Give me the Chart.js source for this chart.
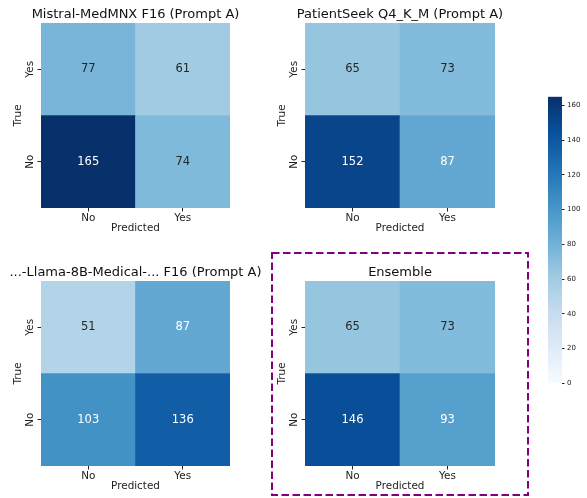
<!DOCTYPE html>
<html>
<head>
<meta charset="utf-8">
<script src="https://cdn.jsdelivr.net/npm/chart.js@4.4.0/dist/chart.umd.min.js"></script>
<style>
  body { margin: 0; background: #fff; }
  #wrap { position: relative; width: 587px; height: 498px; overflow: hidden; }
  canvas { position: absolute; }
</style>
</head>
<body>
<div id="wrap">
  <canvas id="cm1" width="262" height="240" style="left:0;top:0"></canvas>
  <canvas id="cm2" width="262" height="240" style="left:264px;top:0"></canvas>
  <canvas id="cm3" width="270" height="240" style="left:0;top:258px"></canvas>
  <canvas id="cm4" width="272" height="250" style="left:264px;top:248px"></canvas>
  <canvas id="cbar" width="47" height="300" style="left:540px;top:90px"></canvas>
</div>
<script>
// axis categories
const predictedLabels = ['No', 'Yes'];
const trueLabels = ['No', 'Yes'];

const panelTitles = [
  'Mistral-MedMNX F16 (Prompt A)',
  'PatientSeek Q4_K_M (Prompt A)',
  '...-Llama-8B-Medical-... F16 (Prompt A)',
  'Ensemble',
];

// confusion matrices: one array per true class, columns follow predictedLabels
const mistralTrueNo = [165, 74];
const mistralTrueYes = [77, 61];
const patientSeekTrueNo = [152, 87];
const patientSeekTrueYes = [65, 73];
const llamaTrueNo = [103, 136];
const llamaTrueYes = [51, 87];
const ensembleTrueNo = [146, 93];
const ensembleTrueYes = [65, 73];

const colorbarStep = 20;

const vmax = Math.max(
  ...mistralTrueNo, ...mistralTrueYes,
  ...patientSeekTrueNo, ...patientSeekTrueYes,
  ...llamaTrueNo, ...llamaTrueYes,
  ...ensembleTrueNo, ...ensembleTrueYes,
);

Chart.defaults.font.family = "'DejaVu Sans', sans-serif";
Chart.defaults.color = '#222';

// matplotlib "Blues"
const BLUES = ['#f7fbff', '#deebf7', '#c6dbef', '#9ecae1', '#6baed6',
  '#4292c6', '#2171b5', '#08519c', '#08306b'];

function hexToRgb(h) {
  return [1, 3, 5].map((i) => parseInt(h.slice(i, i + 2), 16));
}

function bluesRgb(t) {
  t = Math.min(1, Math.max(0, t));
  const pos = t * (BLUES.length - 1);
  const i = Math.min(Math.floor(pos), BLUES.length - 2);
  const f = pos - i;
  const a = hexToRgb(BLUES[i]);
  const b = hexToRgb(BLUES[i + 1]);
  return a.map((v, k) => Math.round(v + (b[k] - v) * f));
}

function cellColor(value) {
  const [r, g, b] = bluesRgb(value / vmax);
  return `rgb(${r},${g},${b})`;
}

// dark text on light cells, white on dark ones
function textColor(value) {
  const lin = bluesRgb(value / vmax).map((c) => {
    c /= 255;
    return c <= 0.03928 ? c / 12.92 : Math.pow((c + 0.055) / 1.055, 2.4);
  });
  const lum = 0.2126 * lin[0] + 0.7152 * lin[1] + 0.0722 * lin[2];
  return lum > 0.408 ? '#262626' : '#ffffff';
}

const cellText = {
  id: 'cellText',
  afterDatasetsDraw(chart) {
    const { ctx } = chart;
    ctx.save();
    ctx.font = "11.5px 'DejaVu Sans'";
    ctx.textAlign = 'center';
    ctx.textBaseline = 'middle';
    chart.data.datasets.forEach((ds, di) => {
      chart.getDatasetMeta(di).data.forEach((bar, i) => {
        const count = ds.data[i].count;
        const { x, y, base } = bar.getProps(['x', 'y', 'base'], true);
        ctx.fillStyle = textColor(count);
        ctx.fillText(String(count), x, (y + base) / 2);
      });
    });
    ctx.restore();
  },
};

// title centred over the heatmap, allowed to run wider than it
const axesTitle = {
  id: 'axesTitle',
  afterDraw(chart, args, opts) {
    const { ctx, chartArea } = chart;
    ctx.save();
    ctx.font = "13px 'DejaVu Sans'";
    ctx.fillStyle = '#111';
    ctx.textAlign = 'center';
    ctx.textBaseline = 'alphabetic';
    ctx.fillText(opts.text, (chartArea.left + chartArea.right) / 2, chartArea.top - 5.5);
    ctx.restore();
  },
};

const highlightBox = {
  id: 'highlightBox',
  afterDraw(chart, args, opts) {
    if (!opts.rect) return;
    const { ctx } = chart;
    const [x, y, w, h] = opts.rect;
    ctx.save();
    ctx.strokeStyle = '#800080';
    ctx.lineWidth = 2;
    ctx.setLineDash([7.5, 3.5]);
    ctx.strokeRect(x, y, w, h);
    ctx.restore();
  },
};

function rowCells(row) {
  return row.map((v, i) => ({ x: predictedLabels[i], y: 1, count: v }));
}

function makeMatrix(id, title, trueNo, trueYes, lay) {
  const tickFont = { size: 10.4 };
  return new Chart(document.getElementById(id), {
    type: 'bar',
    data: {
      labels: predictedLabels,
      datasets: [trueNo, trueYes].map((row, r) => ({
        label: trueLabels[r],
        data: rowCells(row),
        backgroundColor: (c) => cellColor(c.raw.count),
        borderWidth: 0,
        categoryPercentage: 1,
        barPercentage: 1,
      })),
    },
    options: {
      responsive: false,
      animation: false,
      layout: { padding: { left: 0, right: lay.padRight, top: lay.padTop, bottom: 0 } },
      plugins: {
        legend: { display: false },
        tooltip: { enabled: false },
        title: { display: false },
        axesTitle: { text: title },
        highlightBox: { rect: lay.box || null },
      },
      scales: {
        x: {
          type: 'category',
          stacked: true,
          offset: true,
          grid: { offset: false, drawOnChartArea: false, tickLength: 3.5, color: '#222' },
          border: { display: false },
          ticks: { font: tickFont, padding: 1, maxRotation: 0 },
          title: {
            display: true,
            text: 'Predicted',
            font: tickFont,
            padding: { top: 0, bottom: 5 },
          },
          afterFit: (s) => { s.height = 32; },
        },
        y: {
          type: 'linear',
          stacked: true,
          min: 0,
          max: trueLabels.length,
          afterBuildTicks: (s) => {
            s.ticks = trueLabels.map((_, i) => ({ value: i + 0.5 }));
          },
          ticks: {
            font: tickFont,
            minRotation: 90,
            maxRotation: 90,
            crossAlign: 'center',
            padding: -1.5,
            callback: (v) => trueLabels[Math.floor(v)],
          },
          grid: { drawOnChartArea: false, tickLength: 3.5, color: '#222' },
          border: { display: false },
          title: {
            display: true,
            text: 'True',
            font: tickFont,
            padding: { top: 12, bottom: 0 },
          },
          afterFit: (s) => { s.width = 41; },
        },
      },
    },
    plugins: [cellText, axesTitle, highlightBox],
  });
}

makeMatrix('cm1', panelTitles[0], mistralTrueNo, mistralTrueYes, { padRight: 32, padTop: 23 });
makeMatrix('cm2', panelTitles[1], patientSeekTrueNo, patientSeekTrueYes, { padRight: 31, padTop: 23 });
makeMatrix('cm3', panelTitles[2], llamaTrueNo, llamaTrueYes, { padRight: 40, padTop: 23 });
makeMatrix('cm4', panelTitles[3], ensembleTrueNo, ensembleTrueYes, {
  padRight: 41, padTop: 33, box: [8, 5, 256, 242],
});

// colour bar
new Chart(document.getElementById('cbar'), {
  type: 'bar',
  data: {
    labels: [''],
    datasets: [{
      data: [[0, vmax]],
      backgroundColor: (c) => {
        const { chart } = c;
        const area = chart.chartArea;
        if (!area) return BLUES[4];
        const g = chart.ctx.createLinearGradient(0, area.bottom, 0, area.top);
        BLUES.forEach((col, i) => g.addColorStop(i / (BLUES.length - 1), col));
        return g;
      },
      borderWidth: 0,
      categoryPercentage: 1,
      barPercentage: 1,
    }],
  },
  options: {
    responsive: false,
    animation: false,
    layout: { padding: { left: 8, right: 0, top: 6.7, bottom: 4.7 } },
    plugins: { legend: { display: false }, tooltip: { enabled: false } },
    scales: {
      x: { display: false },
      y: {
        position: 'right',
        min: 0,
        max: vmax,
        afterBuildTicks: (s) => {
          s.ticks = s.ticks.filter((t) => t.value % colorbarStep === 0);
        },
        ticks: { stepSize: colorbarStep, font: { size: 7 }, padding: 2.5 },
        grid: { drawOnChartArea: false, tickLength: 2.5, color: '#222' },
        border: { display: false },
        afterFit: (s) => { s.width = 25; },
      },
    },
  },
});
</script>
</body>
</html>
